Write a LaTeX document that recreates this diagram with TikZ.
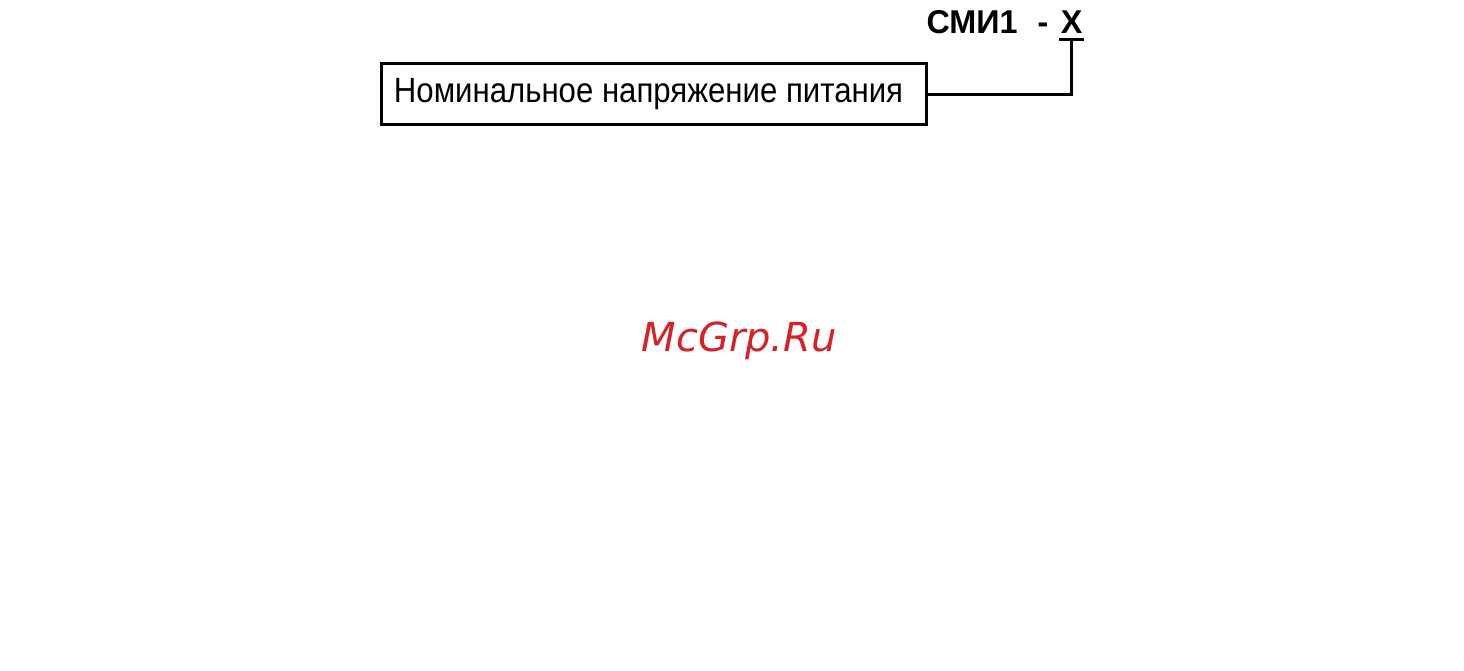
\documentclass[tikz,border=0pt]{standalone}
\usepackage{fontspec}
\setmainfont{Liberation Sans}
\newfontfamily\narrowfont[FakeStretch=0.89]{Liberation Sans}
\newfontfamily\narrowbold[FakeStretch=0.98]{Liberation Sans Bold}
\newfontfamily\markfont{DejaVu Sans Oblique}
\usetikzlibrary{positioning}
\definecolor{markred}{RGB}{214,34,38}

\begin{document}
\begin{tikzpicture}
	[x=1pt, y=-1pt, line width=3pt,
	 field/.style = {draw, rectangle, minimum width=545pt, minimum height=61pt, inner sep=0pt,
	   font=\narrowfont\fontsize{35}{40}\selectfont},
	 code/.style = {inner sep=0pt, font=\narrowbold\fontsize{33}{38}\selectfont}]
	\useasboundingbox (0,0) rectangle (1464,670);
	\node[code, anchor=base west] (model) at (925,33) {СМИ1\hspace*{11pt} -};
	\node[code, anchor=base east] (x) at (1084,33) {Х};
	\coordinate (ul) at (x.south |- 0,39);
	\node[field] (volt) at (654,94) {\hspace*{-11pt}\raisebox{-2pt}{Номинальное напряжение питания}};
	\draw (x.west |- ul) -- (x.east |- ul);
	\draw (volt.east) -| (ul);
	% watermark
	\node[inner sep=0pt, anchor=base west, text=markred, font=\markfont\fontsize{40}{48}\selectfont]
	  (mark) at (640,351) {McGrp.Ru};
\end{tikzpicture}
\end{document}
